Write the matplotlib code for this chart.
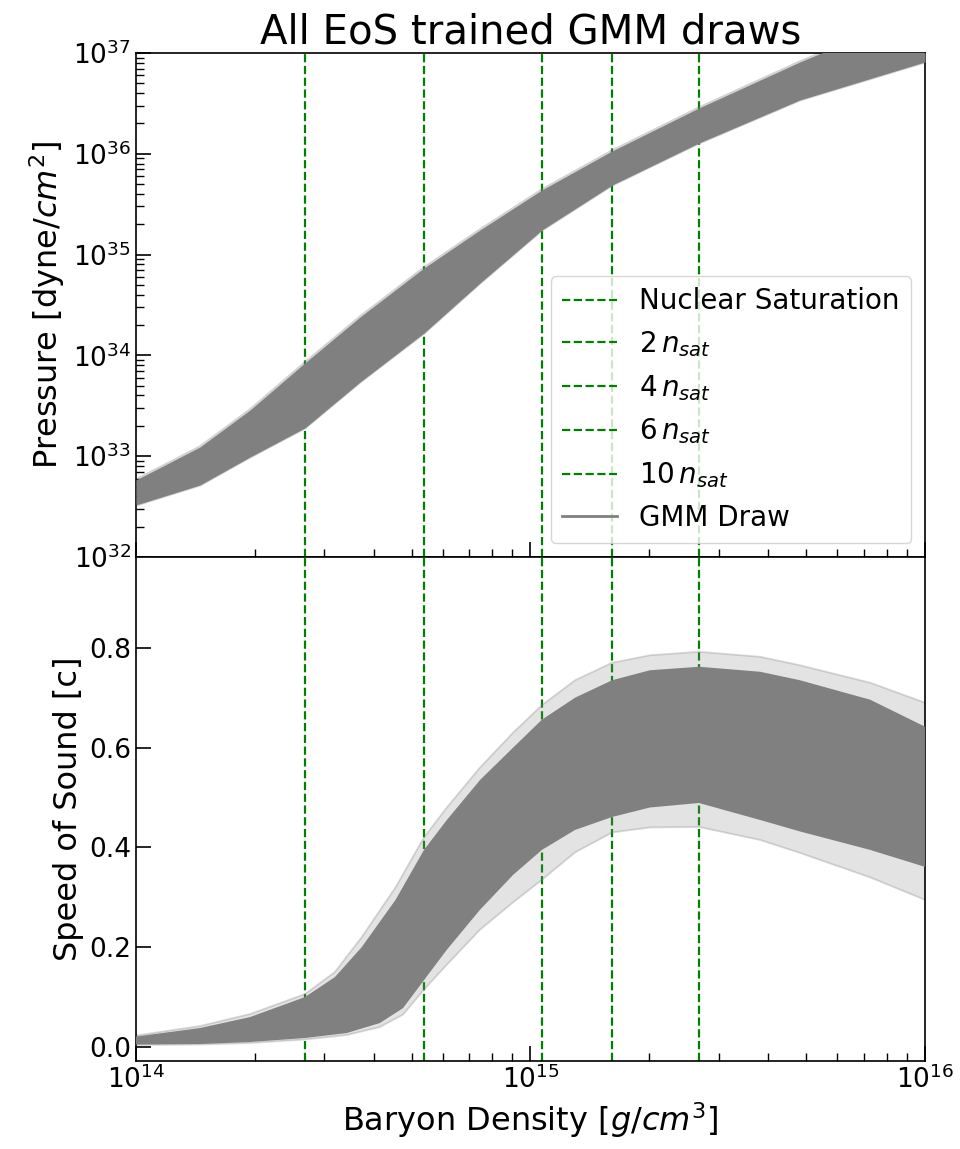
import numpy as np
import matplotlib.pyplot as plt
from matplotlib.lines import Line2D

# --- data ---
N_SAT = 2.68e14  # g/cm^3
SAT_MULTS = [1, 2, 4, 6, 10]
SAT_LABELS = ["Nuclear Saturation", r"$2\,n_{sat}$", r"$4\,n_{sat}$",
              r"$6\,n_{sat}$", r"$10\,n_{sat}$"]

# pressure band (log10 of density and pressure)
LOGN_P = [14.0, 14.162, 14.289, 14.428, 14.568, 14.730, 14.872, 15.029,
          15.207, 15.427, 15.683, 16.0]
LOGP_UPPER = [32.764, 33.091, 33.458, 33.925, 34.381, 34.867, 35.244, 35.641,
              36.028, 36.454, 36.911, 37.427]
LOGP_LOWER = [32.516, 32.714, 32.992, 33.280, 33.736, 34.222, 34.718, 35.244,
              35.690, 36.107, 36.534, 36.911]

# speed of sound: dense band, upper and lower edges
LOGN_CS_UP = [14.0, 14.162, 14.289, 14.428, 14.504, 14.572, 14.658, 14.730,
              14.788, 14.872, 14.956, 15.029, 15.113, 15.207, 15.303, 15.427,
              15.582, 15.683, 15.861, 16.0]
CS_UPPER = [0.021, 0.038, 0.060, 0.100, 0.140, 0.200, 0.295, 0.395,
            0.455, 0.535, 0.600, 0.656, 0.700, 0.735, 0.755, 0.762,
            0.752, 0.735, 0.696, 0.642]
CS_UPPER_OUTER = [0.023, 0.042, 0.066, 0.106, 0.150, 0.220, 0.320, 0.420,
                  0.480, 0.560, 0.630, 0.685, 0.735, 0.770, 0.785, 0.792,
                  0.782, 0.765, 0.730, 0.690]

LOGN_CS_LO = [14.0, 14.162, 14.289, 14.428, 14.534, 14.618, 14.677, 14.730,
              14.788, 14.872, 14.956, 15.029, 15.113, 15.207, 15.303, 15.427,
              15.582, 15.683, 15.861, 16.0]
CS_LOWER = [0.005, 0.006, 0.010, 0.018, 0.028, 0.048, 0.078, 0.134,
            0.195, 0.275, 0.345, 0.395, 0.435, 0.461, 0.480, 0.489,
            0.455, 0.432, 0.395, 0.361]
CS_LOWER_OUTER = [0.004, 0.005, 0.008, 0.015, 0.024, 0.040, 0.065, 0.115,
                  0.165, 0.235, 0.290, 0.335, 0.390, 0.430, 0.440, 0.441,
                  0.415, 0.389, 0.340, 0.295]

GRAY = "gray"
GREEN = "green"


def band(ax, xu, yu, xl, yl, **kw):
    # polygon: upper edge left->right, lower edge right->left
    xs = np.concatenate([xu, xl[::-1]])
    ys = np.concatenate([yu, yl[::-1]])
    return ax.fill(xs, ys, lw=0, **kw)


fig, (ax1, ax2) = plt.subplots(2, 1, sharex=True, figsize=(9.6, 11.49), dpi=100)
fig.subplots_adjust(left=0.1417, right=0.9635, top=0.9539, bottom=0.0766, hspace=0)

# vertical reference lines (below the draws)
for ax in (ax1, ax2):
    for m, lab in zip(SAT_MULTS, SAT_LABELS):
        ax.axvline(m * N_SAT, color=GREEN, ls="--", lw=1.6, zorder=1, label=lab)

# top: pressure
n_p = 10 ** np.array(LOGN_P)
p_up = 10 ** np.array(LOGP_UPPER)
p_lo = 10 ** np.array(LOGP_LOWER)
ax1.fill_between(n_p, p_lo, p_up, color=GRAY, lw=0, zorder=3)
ax1.plot(n_p, p_up, color=GRAY, alpha=0.35, lw=2.2, zorder=2)
ax1.plot(n_p, p_lo, color=GRAY, alpha=0.35, lw=2.2, zorder=2)
ax1.set_xscale("log")
ax1.set_yscale("log")
ax1.set_xlim(1e14, 1e16)
ax1.set_ylim(1e32, 1e37)
ax1.set_ylabel(r"Pressure [dyne/$cm^2$]", fontsize=23)
ax1.set_title("All EoS trained GMM draws", fontsize=29)

# bottom: speed of sound
xu = 10 ** np.array(LOGN_CS_UP)
xl = 10 ** np.array(LOGN_CS_LO)
band(ax2, xu, np.array(CS_UPPER_OUTER), xl, np.array(CS_LOWER_OUTER),
     color=GRAY, alpha=0.22, zorder=2)
ax2.plot(xu, CS_UPPER_OUTER, color=GRAY, alpha=0.3, lw=1.3, zorder=2)
ax2.plot(xl, CS_LOWER_OUTER, color=GRAY, alpha=0.3, lw=1.3, zorder=2)
band(ax2, xu, np.array(CS_UPPER), xl, np.array(CS_LOWER), color=GRAY, zorder=3)
ax2.set_ylim(-0.028, 0.982)
ax2.set_yticks([0.0, 0.2, 0.4, 0.6, 0.8])
ax2.set_ylabel("Speed of Sound [c]", fontsize=23)
ax2.set_xlabel(r"Baryon Density [$g/cm^3$]", fontsize=23)

for ax in (ax1, ax2):
    ax.tick_params(which="both", direction="in", labelsize=19)
    ax.tick_params(which="major", length=11, width=1.2)
    ax.tick_params(which="minor", length=6, width=1.0)
    for s in ax.spines.values():
        s.set_linewidth(1.2)

handles, labels = ax1.get_legend_handles_labels()
handles = handles[:5] + [Line2D([], [], color=GRAY, lw=2)]
labels = labels[:5] + ["GMM Draw"]
ax1.legend(handles, labels, loc="lower right", fontsize=20)

fig.savefig("out.png", dpi=100)
